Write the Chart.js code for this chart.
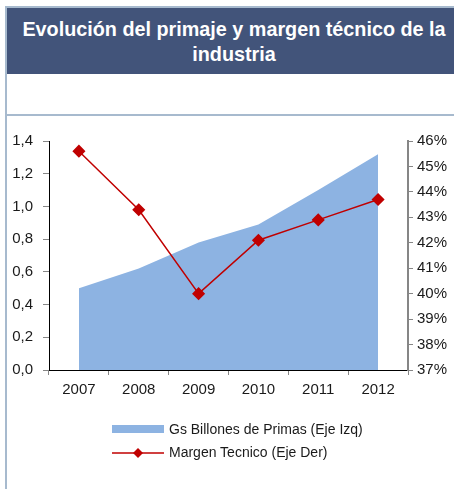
<!DOCTYPE html>
<html>
<head>
<meta charset="utf-8">
<script src="https://cdn.jsdelivr.net/npm/chart.js@4/dist/chart.umd.min.js"></script>
<style>
    html, body { margin: 0; padding: 0; background: #fff; }
    body { width: 454px; height: 489px; position: relative; overflow: hidden; font-family: "Liberation Sans", Arial, sans-serif; }
    .frame-left { position: absolute; left: 5px; top: 7px; width: 2px; height: 482px; background: #a7bace; }
    .frame-top { position: absolute; left: 5px; top: 6px; width: 449px; height: 2px; background: #a7bace; }
    .title { position: absolute; left: 7px; top: 8px; width: 447px; height: 66px; background: #42547a; color: #fff;
        font-weight: bold; font-size: 19.8px; line-height: 25px; text-align: center; padding-top: 9px; padding-left: 7px; box-sizing: border-box; }
    .sep { position: absolute; left: 7px; top: 114px; width: 447px; height: 2px; background: #a7bace; }
    #chartWrap { position: absolute; left: 0; top: 0; width: 454px; height: 489px; }
    .legend { position: absolute; left: 112px; font-size: 14px; color: #1a1a1a; }
    .legend div { position: relative; height: 23px; line-height: 23px; padding-left: 57px; white-space: nowrap; }
    .legend .sw { position: absolute; left: 0; }
</style>
</head>
<body>
<div class="frame-left"></div>
<div class="frame-top"></div>
<div class="title">Evolución del primaje y margen técnico de la<br>industria</div>
<div class="sep"></div>
<div id="chartWrap"><canvas id="chart" width="454" height="489"></canvas></div>
<div class="legend" id="legend" style="top: 418px;"></div>

<script>
    const years = ['2007', '2008', '2009', '2010', '2011', '2012'];
    const primas = [0.50, 0.62, 0.78, 0.89, 1.10, 1.32];        // Gs billones, left axis
    const margen = [45.6, 43.3, 40.0, 42.1, 42.9, 43.7];        // %, right axis
    const leftTicks = [0, 0.2, 0.4, 0.6, 0.8, 1.0, 1.2, 1.4];
    const rightTicks = [37, 38, 39, 40, 41, 42, 43, 44, 45, 46];

    const areaColor = '#8db3e2';
    const lineColor = '#c00000';
    const tickFont = { family: '"Liberation Sans", Arial, sans-serif', size: 15 };

    const ctx = document.getElementById('chart');
    const chart = new Chart(ctx, {
        type: 'line',
        data: {
            labels: years,
            datasets: [{
                label: 'Gs Billones de Primas (Eje Izq)',
                data: primas,
                yAxisID: 'y',
                fill: 'origin',
                backgroundColor: areaColor,
                borderColor: areaColor,
                borderWidth: 0,
                pointRadius: 0,
                tension: 0,
                order: 2
            }, {
                label: 'Margen Tecnico (Eje Der)',
                data: margen,
                yAxisID: 'y1',
                fill: false,
                borderColor: lineColor,
                backgroundColor: lineColor,
                borderWidth: 1.5,
                pointStyle: 'rectRot',
                pointRadius: 5.5,
                pointBackgroundColor: lineColor,
                pointBorderColor: lineColor,
                tension: 0,
                order: 1
            }]
        },
        options: {
            responsive: false,
            animation: false,
            events: [],
            layout: { padding: { top: 141, bottom: 79, left: 0, right: 0 } },
            plugins: { legend: { display: false }, tooltip: { enabled: false } },
            scales: {
                x: {
                    offset: true,
                    grid: { offset: true, drawOnChartArea: false, color: '#868686', tickLength: 5 },
                    border: { color: '#000', width: 1 },
                    ticks: { font: tickFont, color: '#1a1a1a', padding: 6, maxRotation: 0 },
                    afterFit: function(s) { s.height = 40; }
                },
                y: {
                    position: 'left',
                    min: leftTicks[0],
                    max: leftTicks[leftTicks.length - 1],
                    afterBuildTicks: function(s) { s.ticks = leftTicks.map(v => ({ value: v })); },
                    grid: { drawOnChartArea: false, color: '#868686', tickLength: 6 },
                    border: { color: '#000', width: 1 },
                    ticks: {
                        font: tickFont, color: '#1a1a1a', padding: 10,
                        callback: v => v.toFixed(1).replace('.', ',')
                    },
                    afterFit: function(s) { s.width = 49; }
                },
                y1: {
                    position: 'right',
                    min: rightTicks[0],
                    max: rightTicks[rightTicks.length - 1],
                    afterBuildTicks: function(s) { s.ticks = rightTicks.map(v => ({ value: v })); },
                    grid: { drawOnChartArea: false, color: '#868686', tickLength: 5 },
                    border: { color: '#868686', width: 2 },
                    ticks: { font: tickFont, color: '#1a1a1a', padding: 4, callback: v => v + '%' },
                    afterFit: function(s) { s.width = 46; }
                }
            }
        }
    });

    // legend built from the datasets
    const legend = document.getElementById('legend');
    chart.data.datasets.forEach(function(ds, i) {
        const row = document.createElement('div');
        let sw;
        if (i === 0) {
            sw = '<span class="sw" style="top:7px;width:52px;height:8px;background:' + ds.backgroundColor + '"></span>';
        } else {
            sw = '<svg class="sw" style="top:6px" width="52" height="12"><line x1="0" y1="6" x2="52" y2="6" stroke="' + ds.borderColor +
                '" stroke-width="1.5"/><polygon points="26,1 31,6 26,11 21,6" fill="' + ds.borderColor + '"/></svg>';
        }
        row.innerHTML = sw + ds.label;
        legend.appendChild(row);
    });
</script>
</body>
</html>
